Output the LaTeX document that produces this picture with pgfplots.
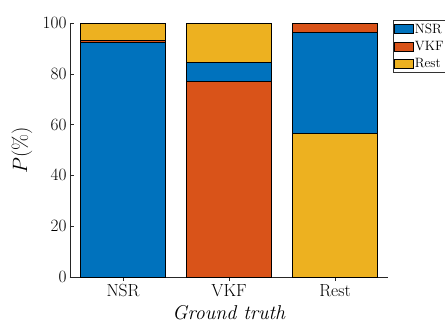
\documentclass[border=0pt]{standalone}
\usepackage{pgfplots}
\pgfplotsset{compat=1.18}
\definecolor{cB}{RGB}{0,114,189}
\definecolor{cO}{RGB}{217,83,25}
\definecolor{cY}{RGB}{237,177,32}
\begin{document}
\begin{tikzpicture}
\useasboundingbox (-70pt,-48pt) rectangle (375pt,277pt);
\begin{axis}[
  at={(0pt,0pt)}, anchor=south west,
  scale only axis,
  width=318pt, height=254pt,
  xmin=0.5, xmax=3.5, ymin=0, ymax=100,
  axis x line*=bottom, axis y line*=left,
  axis line style={black!85, line width=0.6pt},
  tick align=inside,
  major tick length=4pt,
  tick style={black!85, line width=0.6pt},
  xtick={1,2,3}, xticklabels={NSR,VKF,Rest},
  ytick={0,20,40,60,80,100},
  ticklabel style={font=\fontsize{17.5}{20}\selectfont},
  xlabel={\textit{Ground truth}},
  ylabel={$P(\%)$},
  label style={font=\fontsize{20}{24}\selectfont},
  ylabel style={at={(axis description cs:-0.151,0.5)}, anchor=center, rotate=0},
  xlabel style={at={(axis description cs:0.5,-0.142)}, anchor=center},
  ybar, bar shift=0pt, bar width=0.8,
  every axis plot/.append style={draw=black, line width=0.6pt},
  legend image code/.code={\draw[#1] (0pt,-4.5pt) rectangle (19pt,4.5pt);},
  legend style={at={(1,1)}, anchor=north west, xshift=5pt, yshift=3pt,
    font=\fontsize{13.5}{15}\selectfont, draw=black!80, line width=0.5pt,
    inner xsep=1pt, inner ysep=1.5pt, row sep=2.5pt,
    nodes={inner xsep=1pt},
    cells={anchor=west}},
]
\addlegendimage{fill=cB, draw=black}
\addlegendentry{NSR}
\addlegendimage{fill=cO, draw=black}
\addlegendentry{VKF}
\addlegendimage{fill=cY, draw=black}
\addlegendentry{Rest}
% NSR bar: cumulative tops (drawn top layer first)
\addplot[fill=cY, forget plot] coordinates {(1,100)};
\addplot[fill=cO, forget plot] coordinates {(1,93.1)};
\addplot[fill=cB, forget plot] coordinates {(1,92.3)};
% VKF bar
\addplot[fill=cY, forget plot] coordinates {(2,100)};
\addplot[fill=cB, forget plot] coordinates {(2,84.4)};
\addplot[fill=cO, forget plot] coordinates {(2,77.0)};
% Rest bar
\addplot[fill=cO, forget plot] coordinates {(3,100)};
\addplot[fill=cB, forget plot] coordinates {(3,96.2)};
\addplot[fill=cY, forget plot] coordinates {(3,56.4)};
\end{axis}
\end{tikzpicture}
\end{document}
